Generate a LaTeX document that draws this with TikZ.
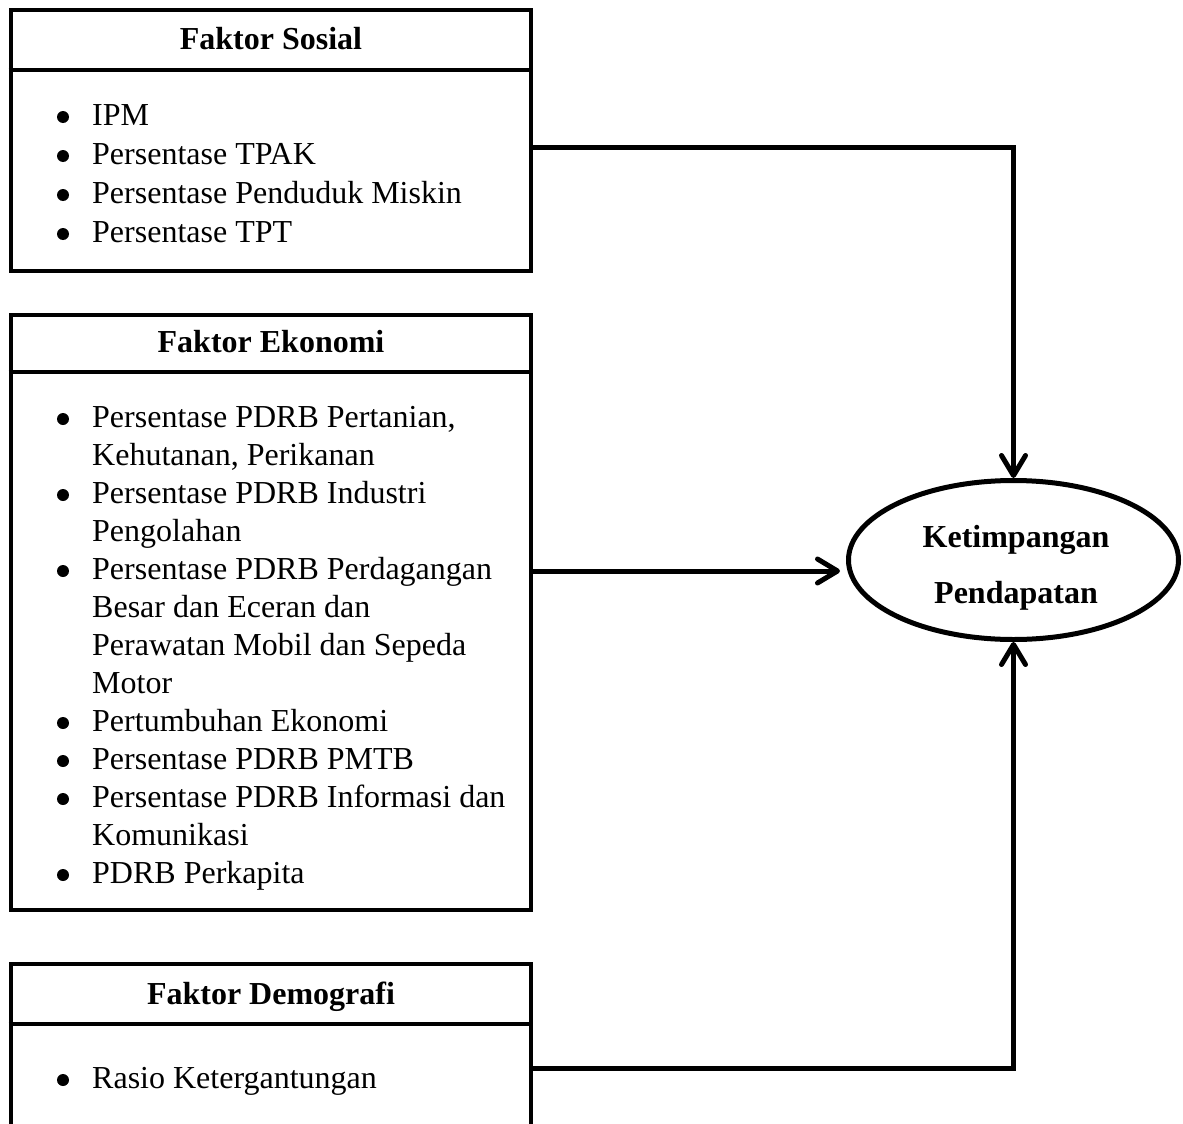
\documentclass[tikz,border=0pt]{standalone}
\usepackage{fontspec}
\setmainfont{Liberation Serif}
\usetikzlibrary{arrows.meta,shapes.geometric,calc}
\begin{document}
\begin{tikzpicture}[x=1pt,y=-1pt,
  box/.style={draw, line width=4.8pt, minimum width=520pt, inner sep=0pt},
  sepline/.style={line width=4.8pt},
  ttl/.style={font=\fontsize{32}{38}\selectfont\bfseries, anchor=base, inner sep=0pt},
  itm/.style={font=\fontsize{32}{38}\selectfont, anchor=base west, inner sep=0pt},
  dot/.style={circle, fill, inner sep=0pt, minimum size=12pt},
  conn/.style={line width=5pt, -{Straight Barb[length=20pt,width=24pt,round]}},
  oval/.style={ellipse, draw, line width=5pt, minimum width=330pt, minimum height=159pt, inner sep=0pt}
]
\useasboundingbox (0,0) rectangle (1183,1124);

% Box 1: Faktor Sosial
\node[box, minimum height=261pt] (sos) at (271,140.5) {};
\node[ttl] (sosT) at (271,50) {Faktor Sosial};
\draw[sepline] (sos.west |- 0,70) -- (sos.east |- 0,70);
\node[dot] (s1b) at (63,117) {}; \node[itm] (s1) at (92,125) {IPM};
\node[dot] (s2b) at (63,156) {}; \node[itm] (s2) at (92,164) {Persentase TPAK};
\node[dot] (s3b) at (63,195) {}; \node[itm] (s3) at (92,203) {Persentase Penduduk Miskin};
\node[dot] (s4b) at (63,234) {}; \node[itm] (s4) at (92,242) {Persentase TPT};

% Box 2: Faktor Ekonomi
\node[box, minimum height=595pt] (eco) at (271,612.5) {};
\node[ttl] (ecoT) at (271,352) {Faktor Ekonomi};
\draw[sepline] (eco.west |- 0,372) -- (eco.east |- 0,372);
\node[dot] (e1b) at (63,419) {}; \node[itm] (e1) at (92,427) {Persentase PDRB Pertanian,};
\node[itm] (e1c) at (92,465) {Kehutanan, Perikanan};
\node[dot] (e2b) at (63,495) {}; \node[itm] (e2) at (92,503) {Persentase PDRB Industri};
\node[itm] (e2c) at (92,541) {Pengolahan};
\node[dot] (e3b) at (63,571) {}; \node[itm] (e3) at (92,579) {Persentase PDRB Perdagangan};
\node[itm] (e3c) at (92,617) {Besar dan Eceran dan};
\node[itm] (e3d) at (92,655) {Perawatan Mobil dan Sepeda};
\node[itm] (e3e) at (92,693) {Motor};
\node[dot] (e4b) at (63,723) {}; \node[itm] (e4) at (92,731) {Pertumbuhan Ekonomi};
\node[dot] (e5b) at (63,761) {}; \node[itm] (e5) at (92,769) {Persentase PDRB PMTB};
\node[dot] (e6b) at (63,799) {}; \node[itm] (e6) at (92,807) {Persentase PDRB Informasi dan};
\node[itm] (e6c) at (92,845) {Komunikasi};
\node[dot] (e7b) at (63,875) {}; \node[itm] (e7) at (92,883) {PDRB Perkapita};

% Box 3: Faktor Demografi
\node[box, minimum height=236pt] (dem) at (271,1082) {};
\node[ttl] (demT) at (271,1004) {Faktor Demografi};
\draw[sepline] (dem.west |- 0,1024) -- (dem.east |- 0,1024);
\node[dot] (d1b) at (63,1080) {}; \node[itm] (d1) at (92,1088) {Rasio Ketergantungan};

% Ellipse
\node[oval] (ell) at (1013.5,560) {};
\node[ttl] (k1) at (1016,547) {Ketimpangan};
\node[ttl] (k2) at (1016,603) {Pendapatan};

% Connectors
\coordinate (tipm) at (840,571);
\draw[conn] ($(sos.east)+(0,6.5)$) -| (ell.north);
\draw[conn] ($(eco.east)+(0,-41.5)$) -- (tipm);
\draw[conn] ($(dem.east)+(0,-14)$) -| (ell.south);
\end{tikzpicture}
\end{document}
